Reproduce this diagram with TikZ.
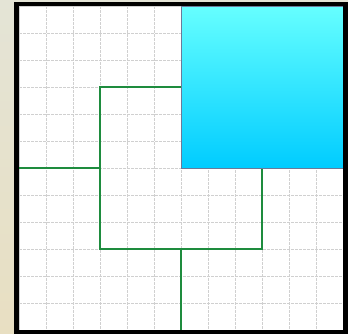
\documentclass[tikz,border=0pt]{standalone}
\definecolor{gridc}{HTML}{D0D0D0}
\definecolor{greenl}{HTML}{1E8C3E}
\definecolor{cyantop}{HTML}{66FFFF}
\definecolor{cyanbot}{HTML}{00CCFF}
\definecolor{edgec}{HTML}{6A7A99}
\definecolor{bgtop}{HTML}{E4E4D6}
\definecolor{bgbot}{HTML}{E8DFC2}
\tikzset{
  gridline/.style={gridc, line width=0.9bp, dash pattern=on 2.5bp off 1.5bp},
  wire/.style={greenl, line width=2.7bp, line join=miter},
  framebox/.style={black, line width=4.5bp},
}
\begin{document}
\begin{tikzpicture}[x=1bp,y=-1bp]
\useasboundingbox (0,0) rectangle (348,334);
\shade[top color=bgtop, bottom color=bgbot] (0,0) rectangle (348,334);
\fill[white] (19,6) rectangle (343,330);
\foreach \i in {1,...,11} {
  \draw[gridline] ({19+27*\i},6) -- ({19+27*\i},330);
  \draw[gridline] (19,{6+27*\i}) -- (343,{6+27*\i});
}
\draw[gridc, line width=0.9bp] (19,6) rectangle (343,330);
% green wiring (grid unit 27)
\coordinate (a) at (19,168);
\coordinate (b) at (100,168);
\draw[wire] (a) -- (b);
\draw[wire] (181,87) -- (100,87) -- (100,249) -- (262,249) -- (262,168);
\draw[wire] (181,249) -- (181,330);
% cyan square
\shade[top color=cyantop, bottom color=cyanbot] (181,6) rectangle (343,168);
\draw[edgec, line width=0.9bp] (181,6) rectangle (343,168);
% frame
\draw[framebox] (16.75,3.75) rectangle (345.25,332.25);
\end{tikzpicture}
\end{document}
